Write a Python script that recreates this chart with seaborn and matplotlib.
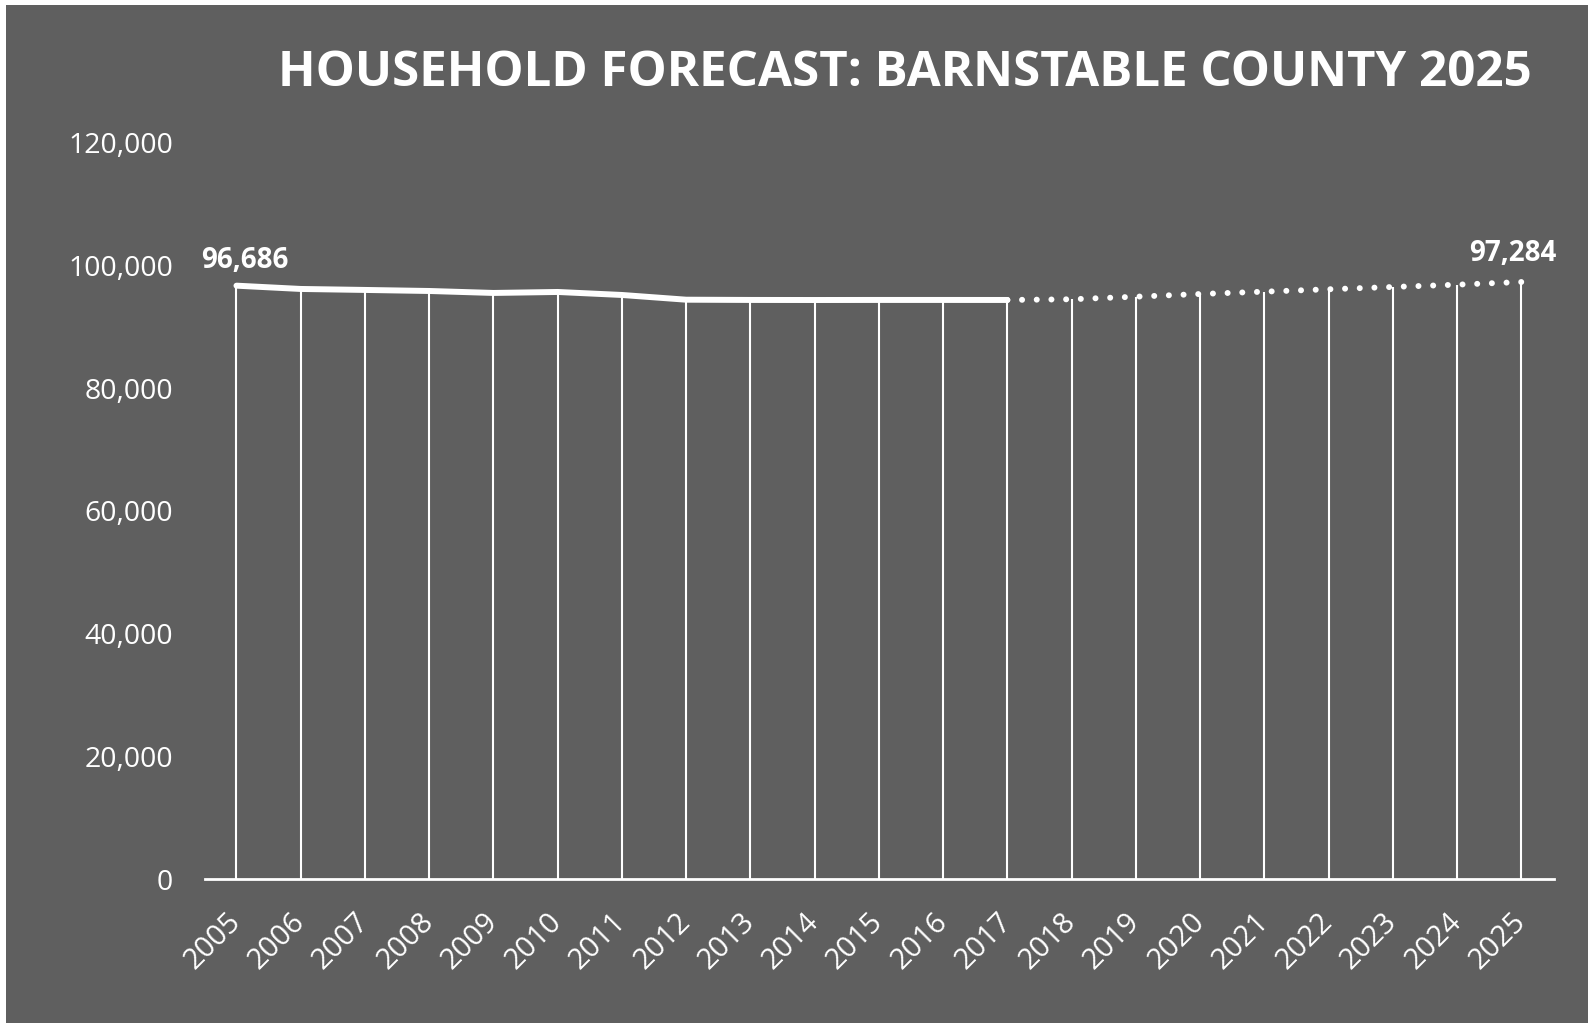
import matplotlib
matplotlib.use("Agg")
import matplotlib.pyplot as plt
import seaborn as sns
import pandas as pd
from matplotlib.patches import Rectangle

years = list(range(2005, 2026))
households = [96686, 96150, 95990, 95820, 95500, 95660, 95170, 94400, 94360,
              94350, 94360, 94360, 94356, 94470, 94890, 95330, 95710, 96100,
              96475, 96850, 97284]
last_actual_year = 2017
title = "HOUSEHOLD FORECAST: BARNSTABLE COUNTY 2025"
ytick_vals = [0, 20000, 40000, 60000, 80000, 100000, 120000]

df = pd.DataFrame({"year": years, "households": households})
actual = df[df["year"] <= last_actual_year]
forecast = df[df["year"] >= last_actual_year]

sns.set_theme(style="white")
plt.rcParams["font.family"] = ["Open Sans", "DejaVu Sans"]

BG = "#5f5f5f"
W, H = 1588, 1023
fig = plt.figure(figsize=(W / 100, H / 100), dpi=100)
fig.patch.set_facecolor("white")
fig.patches.append(Rectangle((6 / W, 0), 1 - 6 / W, 1 - 5 / H,
                             transform=fig.transFigure, facecolor=BG,
                             edgecolor="none", zorder=-10))

ax = fig.add_axes([205 / W, 1 - 879 / H, (1554 - 205) / W, (879 - 142.6) / H])
ax.set_facecolor("none")
ax.set_zorder(5)

# drop lines
ax.vlines(df["year"], 0, df["households"], color="white", linewidth=1.5, zorder=2)

sns.lineplot(data=actual, x="year", y="households", ax=ax, color="white",
             linewidth=4.3, solid_capstyle="round", zorder=3)
sns.lineplot(data=forecast, x="year", y="households", ax=ax, color="white",
             linewidth=4.3, linestyle=(0, (0.01, 2.45)), dash_capstyle="round",
             zorder=3)

ax.set_xlim(years[0] - 0.49, years[-1] + 0.51)
ax.set_ylim(0, 120000)
ax.set_xticks(years)
ax.set_xticklabels([str(y) for y in years], rotation=45, ha="right",
                   va="center", rotation_mode="anchor")
ax.set_yticks(ytick_vals)
ax.set_yticklabels([f"{v:,}" for v in ytick_vals])
ax.tick_params(axis="x", length=0, pad=28, labelsize=21, colors="white")
ax.tick_params(axis="y", length=0, pad=23, labelsize=20.5, colors="white")
ax.set_xlabel("")
ax.set_ylabel("")
for s in ["top", "right", "left"]:
    ax.spines[s].set_visible(False)
ax.spines["bottom"].set_color("white")
ax.spines["bottom"].set_linewidth(2)

# data labels for first and last
ax.annotate(f"{households[0]:,}", (years[0], households[0]),
            xytext=(8, 11), textcoords="offset pixels", ha="center", va="bottom",
            color="white", fontsize=20, fontweight="bold")
ax.annotate(f"{households[-1]:,}", (years[-1], households[-1]),
            xytext=(-8, 14), textcoords="offset pixels", ha="center", va="bottom",
            color="white", fontsize=20, fontweight="bold")

fig.text(1532 / W, 1 - 74 / H, title, ha="right", va="center", color="white",
         fontsize=35.5, fontweight="bold", zorder=6)

fig.savefig("out.png", dpi=100, facecolor=fig.get_facecolor())
